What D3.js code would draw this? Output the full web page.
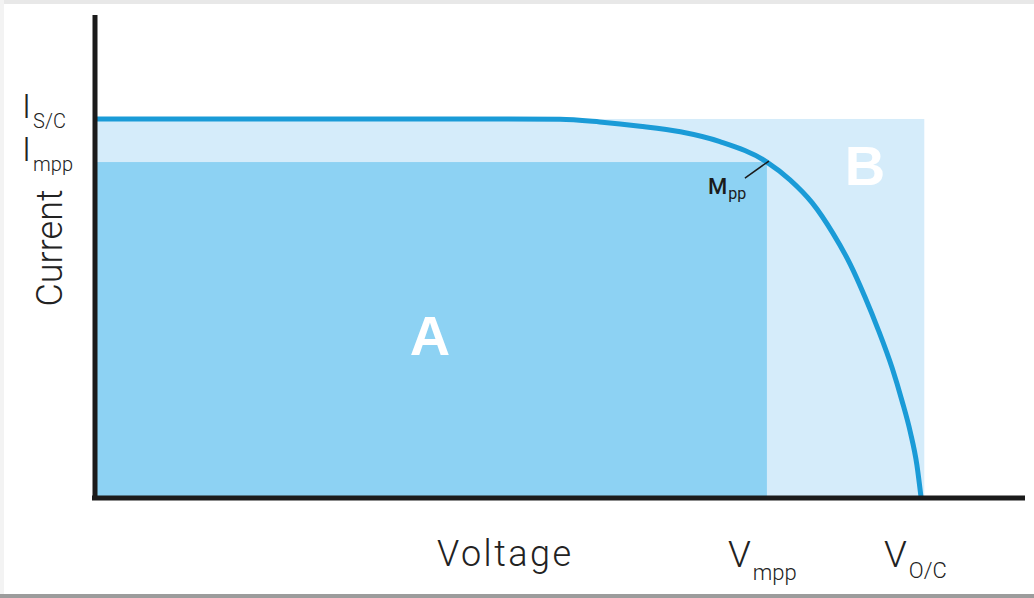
<!DOCTYPE html>
<html>
<head>
<meta charset="utf-8">
<script src="https://cdn.jsdelivr.net/npm/d3@7"></script>
<style>
  html, body { margin: 0; padding: 0; background: #fff; }
  #chart { width: 1034px; height: 598px; }
  text { font-family: Roboto, "Liberation Sans", sans-serif; }
</style>
</head>
<body>
<div id="chart"></div>
<script>
// I-V curve of a solar cell, normalised so that Voc = 1 and Isc = 1
const voltage = [0, 0.465, 0.562, 0.610, 0.659, 0.708, 0.756, 0.813, 0.841, 0.868, 0.893, 0.914, 0.932, 0.948, 0.965, 0.977, 0.987, 0.995, 1.0];
const current = [1, 1.000, 0.999, 0.992, 0.981, 0.966, 0.940, 0.886, 0.839, 0.778, 0.698, 0.616, 0.529, 0.443, 0.341, 0.254, 0.172, 0.085, 0.0];
const vmpp = 0.813;
const impp = 0.886;
const voc = 1;
const isc = 1;

const width = 1034, height = 598;
const svg = d3.select('#chart').append('svg')
  .attr('width', width)
  .attr('height', height);

// page frame
svg.append('rect').attr('x', 0).attr('y', 0).attr('width', width).attr('height', 4).attr('fill', '#e8e8e8');
svg.append('rect').attr('x', 0).attr('y', 0).attr('width', 4).attr('height', height).attr('fill', '#f3f3f3');
svg.append('rect').attr('x', 0).attr('y', 594).attr('width', width).attr('height', 4).attr('fill', '#9c9c9c');

const x = d3.scaleLinear().domain([0, 1.125]).range([97, 1024]);
const y = d3.scaleLinear().domain([0, 1.275]).range([497, 15]);

// area B: Isc x Voc
svg.append('rect')
  .attr('x', x(0)).attr('y', y(isc))
  .attr('width', x(voc * 1.004) - x(0)).attr('height', y(0) - y(isc))
  .attr('fill', '#d5ecfa');

// area A: Impp x Vmpp
svg.append('rect')
  .attr('x', x(0)).attr('y', y(impp))
  .attr('width', x(vmpp) - x(0)).attr('height', y(0) - y(impp))
  .attr('fill', '#8dd2f3');

// I-V curve
const pts = voltage.map((v, i) => [v, current[i]]);
const line = d3.line().x(d => x(d[0])).y(d => y(d[1])).curve(d3.curveMonotoneX);
svg.append('path')
  .attr('d', line(pts))
  .attr('fill', 'none')
  .attr('stroke', '#1a9bd7')
  .attr('stroke-width', 5)
  .attr('stroke-linecap', 'round');

// axes
svg.append('line')
  .attr('x1', x(0) - 2).attr('x2', x(0) - 2)
  .attr('y1', y(1.275)).attr('y2', y(0) + 2)
  .attr('stroke', '#1b1b1b').attr('stroke-width', 5);
svg.append('line')
  .attr('x1', x(0) - 5).attr('x2', x(1.125) + 1)
  .attr('y1', y(0) + 1).attr('y2', y(0) + 1)
  .attr('stroke', '#1b1b1b').attr('stroke-width', 5);

// region letters
svg.selectAll('text.region')
  .data([{ t: 'A', v: 0.404, py: 355 }, { t: 'B', v: 0.932, py: 185 }])
  .join('text')
  .attr('class', 'region')
  .attr('x', d => x(d.v)).attr('y', d => d.py)
  .attr('text-anchor', 'middle')
  .attr('font-size', 56).attr('font-weight', 'bold')
  .style('font-family', '"Liberation Sans", Arial, sans-serif')
  .attr('fill', '#fff')
  .text(d => d.t);

// Mpp marker
svg.append('line')
  .attr('x1', x(vmpp) + 2).attr('y1', y(impp) - 1)
  .attr('x2', x(vmpp) - 22).attr('y2', y(impp) + 16)
  .attr('stroke', '#1b1b1b').attr('stroke-width', 1.5);
const mpp = svg.append('text')
  .attr('x', 708).attr('y', 194)
  .attr('fill', '#1b1b1b');
mpp.append('tspan').attr('font-size', 22).attr('font-weight', 500).text('M');
mpp.append('tspan').attr('font-size', 16).attr('dy', 5).attr('dx', 1).text('pp');

// label helper with subscript
function subLabel(tx, ty, main, sub, size, subSize, dy) {
  const t = svg.append('text')
    .attr('x', tx).attr('y', ty)
    .attr('fill', '#222')
    .attr('font-weight', 300);
  t.append('tspan').attr('font-size', size).text(main);
  t.append('tspan').attr('font-size', subSize).attr('dy', dy).attr('dx', 2).text(sub);
  return t;
}

subLabel(22, 118, 'I', 'S/C', 34, 20, 10);
subLabel(22, 161, 'I', 'mpp', 34, 20, 10);
subLabel(x(vmpp) - 39, 567, 'V', 'mpp', 37, 22, 13);
subLabel(x(voc) - 37, 567, 'V', 'O/C', 37, 22, 11);

svg.append('text')
  .attr('x', 437).attr('y', 566)
  .attr('font-size', 36).attr('font-weight', 300)
  .attr('letter-spacing', 2.5)
  .attr('fill', '#222')
  .text('Voltage');

svg.append('text')
  .attr('transform', 'translate(62,248) rotate(-90)')
  .attr('text-anchor', 'middle')
  .attr('font-size', 36).attr('font-weight', 300)
  .attr('fill', '#222')
  .text('Current');
</script>
</body>
</html>
